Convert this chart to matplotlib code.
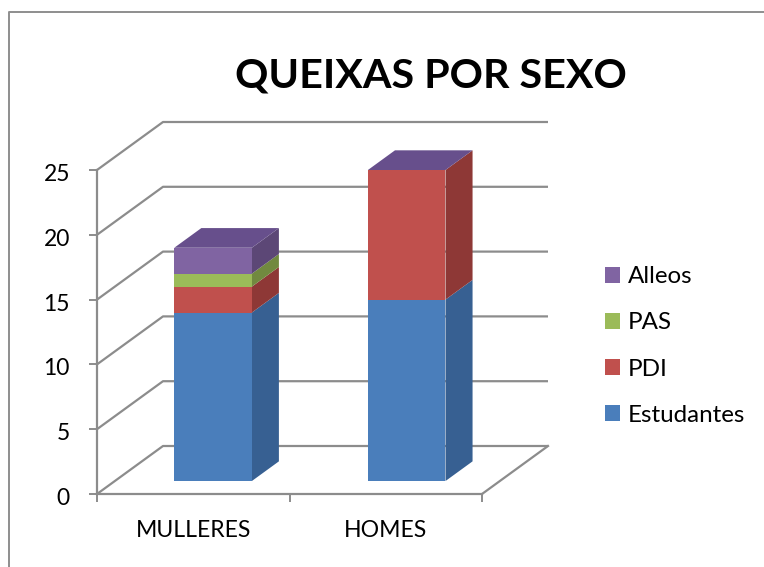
import matplotlib
matplotlib.use("Agg")
import matplotlib.pyplot as plt
from matplotlib.patches import Patch
from matplotlib.lines import Line2D
from matplotlib.transforms import ScaledTranslation

plt.rcParams['font.family'] = ['Lato', 'DejaVu Sans']

categories = ["MULLERES", "HOMES"]
series_names = ["Estudantes", "PDI", "PAS", "Alleos"]
estudantes = [13, 14]
pdi = [2, 10]
pas = [1, 0]
alleos = [2, 0]
series_values = [estudantes, pdi, pas, alleos]
yticks = [0, 5, 10, 15, 20, 25]

front_cols = ["#4A7EBB", "#C0504D", "#9BBB59", "#8064A2"]
side_cols = ["#376092", "#8E3836", "#71893F", "#5C4776"]
cap_col = "#674F8C"
grid_col = "#8C8C8C"

W, H = 764, 567
fig = plt.figure(figsize=(W / 100, H / 100), dpi=100)
fig.patch.set_facecolor("white")
L, R, T, B = 97, 482, 170, 494
ax = fig.add_axes([L / W, 1 - B / H, (R - L) / W, (B - T) / H])
ax.set_xlim(0, len(categories))
ax.set_ylim(0, 25)
ax.patch.set_visible(False)

# oblique depth, in data units
DX = 66 / ((R - L) / len(categories))
DY = 48 / ((B - T) / 25)
def proj(x, y, z):
    return x + z * DX, y + z * DY

# chart frame: only the top and left edges fall inside the picture
fig.add_artist(Line2D([8.5 / W, 8.5 / W, 1], [0, 1 - 11.5 / H, 1 - 11.5 / H],
                      transform=fig.transFigure, color="#8E8E8E", lw=1.4))

# walls and floor
for v in yticks:
    pts = [proj(0, v, 0), proj(0, v, 1), proj(len(categories), v, 1)]
    ax.plot(*zip(*pts), color=grid_col, lw=1.6, clip_on=False, zorder=1,
            solid_capstyle="butt")
ax.plot(*zip(proj(len(categories), 0, 0), proj(len(categories), 0, 1)),
        color=grid_col, lw=1.6, clip_on=False, zorder=1)

# stacked 3D bars
BAR_W = 0.403
Z0, Z1 = 0.27, 0.68
zo = 3
for i in range(len(categories)):
    x0 = i + 0.5 - BAR_W / 2 + i * 0.006 + 0.0103
    x1 = x0 + BAR_W
    base = 0
    for vals, fc, sc in zip(series_values, front_cols, side_cols):
        v = vals[i]
        if v > 0:
            xf, yf = proj(x0, base, Z0)
            ax.bar(xf, v, BAR_W, bottom=yf, align="edge", color=fc, lw=0,
                   zorder=zo + 1, clip_on=False)
            side = [proj(x1, base, Z0), proj(x1, base, Z1),
                    proj(x1, base + v, Z1), proj(x1, base + v, Z0)]
            ax.fill(*zip(*side), color=sc, lw=0, zorder=zo, clip_on=False)
        base += v
    cap = [proj(x0, base, Z0), proj(x1, base, Z0),
           proj(x1, base, Z1), proj(x0, base, Z1)]
    ax.fill(*zip(*cap), color=cap_col, lw=0, zorder=zo, clip_on=False)

# axes
for s in ("top", "right"):
    ax.spines[s].set_visible(False)
for s in ("left", "bottom"):
    ax.spines[s].set_color(grid_col)
    ax.spines[s].set_linewidth(1.6)
    ax.spines[s].set_zorder(2)
ax.set_yticks(yticks)
ax.set_xticks(range(len(categories) + 1))
ax.set_xticklabels([])
ax.set_xticks([i + 0.5 for i in range(len(categories))], categories, minor=True)
ax.tick_params(axis="y", length=6, width=1.4, color=grid_col, labelsize=16.5,
               pad=13.5, labelcolor="black")
ax.tick_params(axis="x", which="major", length=6, width=1.4, color=grid_col)
ax.tick_params(axis="x", which="minor", length=0, labelsize=16.6, pad=19,
               labelcolor="black")
down = ScaledTranslation(0, -2.5 / 100, fig.dpi_scale_trans)
for lab in ax.get_yticklabels():
    lab.set_transform(lab.get_transform() + down)

fig.text(431 / W, 1 - 76 / H, "QUEIXAS POR SEXO", fontsize=29.7, fontweight="bold",
         ha="center", va="center", color="black")

handles = [Patch(facecolor=c, edgecolor="none") for c in front_cols[::-1]]
fig.legend(handles, series_names[::-1], loc="center left",
           bbox_to_anchor=(605 / W, 1 - 346 / H), frameon=False, fontsize=17.4,
           handlelength=0.62, handleheight=0.62, handletextpad=0.33,
           labelspacing=1.04, borderpad=0, borderaxespad=0, labelcolor="black")

fig.savefig("out.png", dpi=100)
